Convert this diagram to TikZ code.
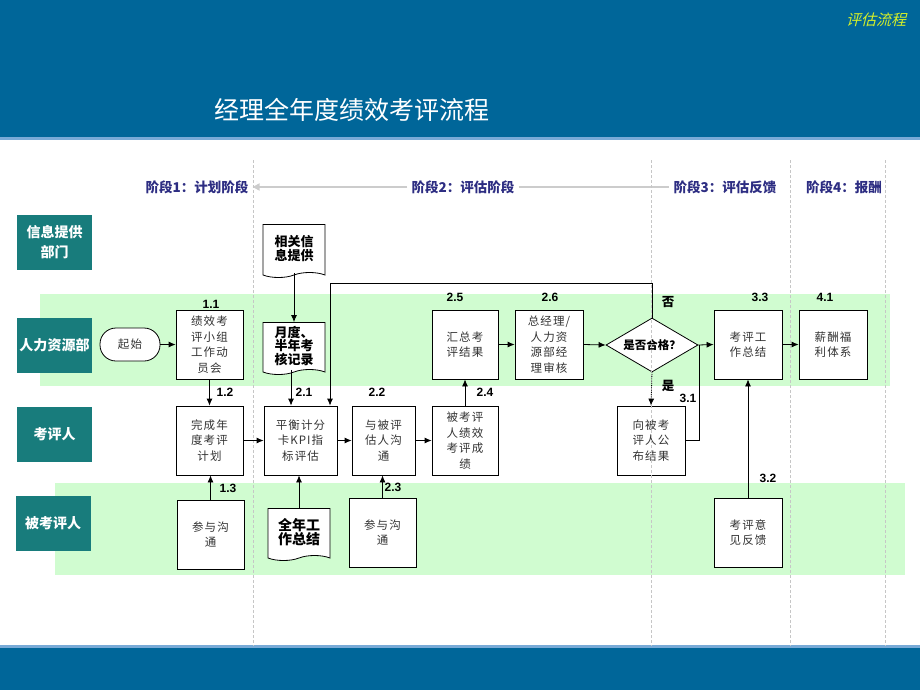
\documentclass[tikz,border=0pt]{standalone}
\usepackage{fontspec}
\setmainfont{Liberation Sans}
\newfontfamily\cjk{Noto Sans CJK SC}
\newfontfamily\cjkls[LetterSpace=9]{Noto Sans CJK SC}
\newfontfamily\cjksl[FakeSlant=0.25]{Noto Sans CJK SC}
\usetikzlibrary{arrows.meta,shapes.geometric,shapes.symbols}
\definecolor{hdr}{RGB}{0,102,153}
\definecolor{hdrline}{RGB}{120,170,215}
\definecolor{lanec}{RGB}{24,124,124}
\definecolor{band}{RGB}{208,252,208}
\definecolor{navy}{RGB}{45,45,130}
\definecolor{ygreen}{RGB}{214,240,40}
\begin{document}
\begin{tikzpicture}[x=1pt,y=-1pt,
  sz/.style 2 args={minimum width=#1pt,minimum height=#2pt},
  box/.style={draw,fill=white,line width=0.8pt,inner sep=0pt,align=center,
    font=\cjkls\fontsize{11.5}{15.5}\selectfont,text=black!80},
  doc/.style={draw,fill=white,line width=0.8pt,inner sep=0pt,align=center,
    shape=tape,tape bend top=none,tape bend bottom=in and out,tape bend height=5pt,
    font=\cjk\bfseries\fontsize{13}{13.5}\selectfont},
  lanebox/.style={fill=lanec,text=white,inner sep=0pt,align=center,
    minimum width=75pt,minimum height=55pt,font=\cjk\bfseries\fontsize{14}{20}\selectfont},
  phase/.style={text=navy,inner sep=4pt,font=\cjk\bfseries\fontsize{13.5}{14}\selectfont},
  num/.style={inner sep=0pt,font=\bfseries\fontsize{12}{12}\selectfont},
  yn/.style={inner sep=0pt,font=\cjk\bfseries\fontsize{12.5}{12.5}\selectfont},
  conn/.style={draw,line width=0.8pt,-{Latex[length=7pt,width=6pt]}},
  plain/.style={draw,line width=0.8pt},
  sep/.style={draw=gray!45,densely dashed,line width=0.6pt}
]
\useasboundingbox (0,0) rectangle (920,690);
% header and footer
\fill[hdr] (0,0) rectangle (920,137);
\fill[hdrline] (0,137) rectangle (920,139.5);
\fill[hdrline] (0,645) rectangle (920,647.5);
\fill[hdr] (0,647.5) rectangle (920,690);
\node[text=white,anchor=west,inner sep=0pt,font=\cjk\fontsize{25}{25}\selectfont] (title) at (214,110) {经理全年度绩效考评流程};
\node[text=ygreen,inner sep=0pt,font=\cjksl\fontsize{15}{15}\selectfont] (tag) at (876,20) {评估流程};
% bands
\fill[band] (40,294) rectangle (890,386);
\fill[band] (55,483) rectangle (905,575);
% phases
\node[phase] (p1) at (197,187) {阶段1：计划阶段};
\node[phase] (p2) at (463,187) {阶段2：评估阶段};
\node[phase] (p3) at (725,187) {阶段3：评估反馈};
\node[phase] (p4) at (844,187) {阶段4：报酬};
\draw[draw=gray!40,line width=2pt,-{Triangle[length=7pt,width=7pt]}] (p2.west) -- (p1.east);
\draw[draw=gray!40,line width=2pt] (p2.east) -- (p3.west);
% lane labels
\node[lanebox] (l1) at (54.5,242.5) {信息提供\\部门};
\node[lanebox] (l2) at (54.5,345) {人力资源部};
\node[lanebox] (l3) at (54.5,434.5) {考评人};
\node[lanebox] (l4) at (53,523) {被考评人};
% boxes
\node[box,sz={60}{33},rounded corners=16pt] (st) at (130,344.5) {起始};
\node[box,sz={67}{69}] (b11) at (209.5,344.5) {绩效考\\评小组\\工作动\\员会};
\node[box,sz={67}{69}] (b12) at (209.5,440.5) {完成年\\度考评\\计划};
\node[box,sz={67}{69}] (b13) at (210.5,534.5) {参与沟\\通};
\node[box,sz={73}{69}] (b21) at (300.5,440.5) {平衡计分\\卡KPI指\\标评估};
\node[box,sz={63}{69}] (b22) at (383.5,440.5) {与被评\\估人沟\\通};
\node[box,sz={67}{69}] (b23) at (382.5,532.5) {参与沟\\通};
\node[box,sz={66}{69}] (b24) at (465,440.5) {被考评\\人绩效\\考评成\\绩};
\node[box,sz={66}{69}] (b25) at (465,344.5) {汇总考\\评结果};
\node[box,sz={68}{69}] (b26) at (549,344.5) {总经理/\\人力资\\源部经\\理审核};
\node[box,shape=diamond,aspect=1.7,sz={92}{54},font=\cjk\bfseries\fontsize{11.5}{12}\selectfont,text=black] (dec) at (652,345) {是否合格？};
\node[box,sz={68}{69}] (b31) at (651,440.5) {向被考\\评人公\\布结果};
\node[box,sz={68}{69}] (b33) at (748,344.5) {考评工\\作总结};
\node[box,sz={68}{69}] (b41) at (833,344.5) {薪酬福\\利体系};
\node[box,sz={68}{69}] (b32) at (748,532.5) {考评意\\见反馈};
\node[doc,sz={62}{53}] (d1) at (294,248.5) {相关信\\息提供};
\node[doc,sz={62}{52}] (d2) at (294,346) {月度、\\半年考\\核记录};
\node[doc,sz={62}{52},font=\cjk\bfseries\fontsize{14}{13}\selectfont] (d3) at (299,532) {全年工\\作总结};
% separators
\draw[sep] (253,160) -- (253,646);
\draw[sep] (651,160) -- (651,646);
\draw[sep] (790,160) -- (790,646);
\draw[sep] (885,160) -- (885,646);
% connectors
\draw[conn] (st.east) -- (b11.west);
\draw[conn] (b11.south) -- (b12.north);
\draw[conn] (b13.north) -- (b13.north |- b12.south);
\draw[conn] (d1.south) -- (d2.north);
\draw[conn] ([xshift=-3pt]d2.south) -- ([xshift=-3pt]d2.south |- b21.north);
\coordinate (lp) at (330,283);
\draw[conn] (dec.north) |- (lp) -- (lp |- b21.north);
\draw[conn] (d3.north) -- (d3.north |- b21.south);
\draw[conn] (b12.east) -- (b21.west);
\draw[conn] (b21.east) -- (b22.west);
\draw[conn] (b22.east) -- (b24.west);
\draw[conn] (b23.north) -- (b23.north |- b22.south);
\draw[conn] (b24.north) -- (b25.south);
\draw[conn] (b25.east) -- (b26.west);
\draw[conn] (b26.east) -- (dec.west);
\draw[conn,densely dotted] (dec.south) -- (b31.north);
\coordinate (jn) at (699,345);
\draw[plain] (b31.east) -| (jn);
\draw[conn] (dec.east) -- (b33.west);
\draw[conn] (b33.east) -- (b41.west);
\draw[conn] (b32.north) -- (b33.south);
% step numbers
\node[num] (n11) at (211,304) {1.1};
\node[num] (n12) at (225,392) {1.2};
\node[num] (n13) at (228,488) {1.3};
\node[num] (n21) at (304,392) {2.1};
\node[num] (n22) at (377,392) {2.2};
\node[num] (n23) at (393,487) {2.3};
\node[num] (n24) at (485,392) {2.4};
\node[num] (n25) at (455,297) {2.5};
\node[num] (n26) at (550,297) {2.6};
\node[num] (n31) at (688,398) {3.1};
\node[num] (n32) at (768,478) {3.2};
\node[num] (n33) at (760,297) {3.3};
\node[num] (n41) at (825,297) {4.1};
\node[yn] (no) at (668,302) {否};
\node[yn] (yes) at (668,386) {是};
\end{tikzpicture}
\end{document}
